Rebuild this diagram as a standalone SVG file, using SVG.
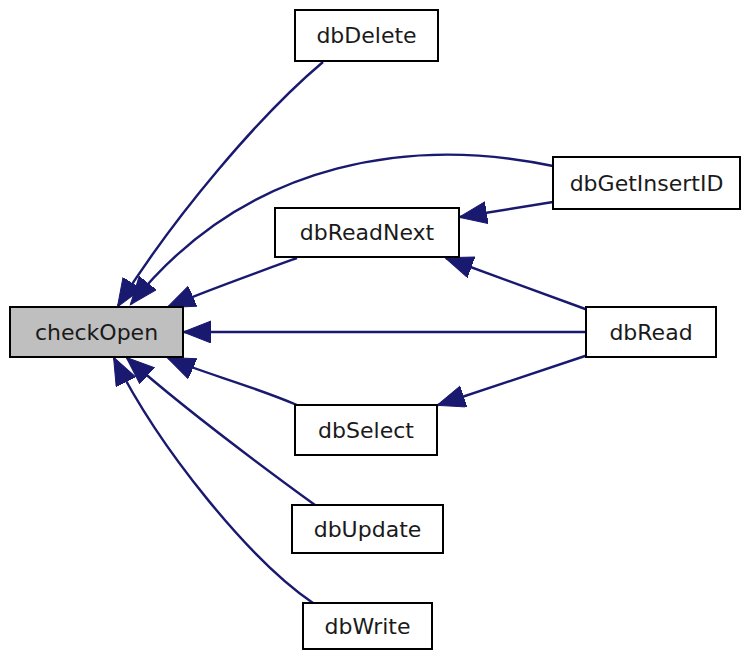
<svg xmlns="http://www.w3.org/2000/svg" width="742" height="650" viewBox="0 0 742 650">
<style>
.node rect{fill:#ffffff;stroke:#000000;stroke-width:2}
#checkOpen rect{fill:#bfbfbf}
.node text{font-family:"DejaVu Sans",sans-serif;font-size:22px;fill:#1a1a1a;text-anchor:middle}
.edge{fill:none;stroke:#191970;stroke-width:2.4;marker-end:url(#ah)}
</style>
<defs>
<marker id="ah" markerWidth="30" markerHeight="24" refX="27" refY="11" orient="auto" markerUnits="userSpaceOnUse">
<path d="M0,0 L28,11 L0,22 z" fill="#191970" stroke="#191970" stroke-width="1"/>
</marker>
</defs>
<rect width="742" height="650" fill="#ffffff"/>
<g id="connectors">
<path class="edge" d="M323,62 C260,115 175,215 118,306"/>
<path class="edge" d="M553,166 C420,138 250,155 131,304"/>
<path class="edge" d="M297,258 C250,275 200,293 168,307"/>
<path class="edge" d="M586,332 L184,332"/>
<path class="edge" d="M297,405 C250,385 200,372 168,358"/>
<path class="edge" d="M315,505 C260,465 180,405 127,358"/>
<path class="edge" d="M313,603 C250,560 160,450 114,358"/>
<path class="edge" d="M553,202 L460,217"/>
<path class="edge" d="M588,310 L446,258"/>
<path class="edge" d="M588,355 L438,405"/>
</g>
<g id="checkOpen" class="node"><rect x="10" y="307" width="173" height="50"/><text x="96.5" y="340">checkOpen</text></g>
<g id="dbDelete" class="node"><rect x="295" y="10" width="143" height="51"/><text x="366.5" y="43">dbDelete</text></g>
<g id="dbGetInsertID" class="node"><rect x="553" y="157" width="187" height="52"/><text x="646.5" y="191">dbGetInsertID</text></g>
<g id="dbReadNext" class="node"><rect x="275" y="208" width="184" height="49"/><text x="367" y="240">dbReadNext</text></g>
<g id="dbRead" class="node"><rect x="586" y="307" width="130" height="50"/><text x="651" y="340">dbRead</text></g>
<g id="dbSelect" class="node"><rect x="295" y="405" width="142" height="50"/><text x="366" y="438">dbSelect</text></g>
<g id="dbUpdate" class="node"><rect x="292" y="505" width="151" height="48"/><text x="367.5" y="537">dbUpdate</text></g>
<g id="dbWrite" class="node"><rect x="303" y="603" width="129" height="46"/><text x="367.5" y="634">dbWrite</text></g>
</svg>
